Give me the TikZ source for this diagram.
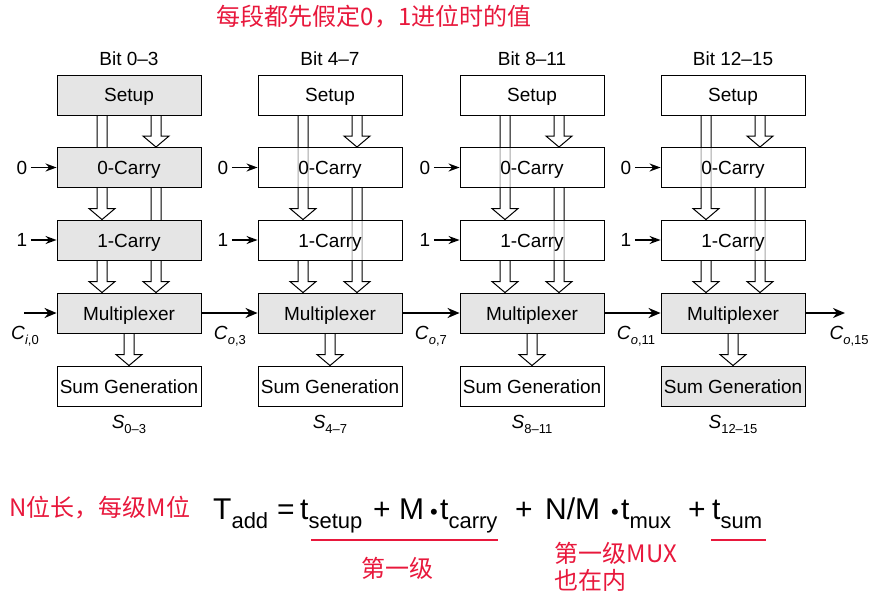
\documentclass[tikz,border=0pt]{standalone}
\usepackage{fontspec}
\setmainfont{Liberation Sans}
\newfontfamily\cjk{Noto Sans CJK SC}
\usetikzlibrary{arrows.meta,calc,backgrounds}

\definecolor{note}{RGB}{232,24,60}
\colorlet{shade}{gray!20}

% subscripts in the formula and at the labels
\newcommand{\sub}[1]{\raisebox{-9pt}{\fontsize{22}{22}\selectfont #1}}
\newcommand{\lsub}[1]{\raisebox{-5pt}{\fontsize{13}{13}\selectfont #1}}
\newcommand{\mdot}{{\fontsize{22}{22}\selectfont •}}

% hollow bus arrow pointing down from #1 to #2
\newcommand{\fatarrow}[2]{%
  \draw[fat] let \p1=(#1), \p2=(#2) in
    (\x1-5pt,\y1) -- (\x1-5pt,\y2+11pt) -- (\x1-13pt,\y2+11pt) -- (\x1,\y2)
    -- (\x1+13pt,\y2+11pt) -- (\x1+5pt,\y2+11pt) -- (\x1+5pt,\y1);}

\tikzset{
  block/.style 2 args={draw, line width=0.9pt, fill=#1, fill opacity=#2,
    text opacity=1, minimum width=144pt, minimum height=40pt, inner sep=0pt,
    text height=15pt, text depth=1pt},
  fat/.style={draw=black, line width=1pt, fill=white},
  carry/.style={line width=2.2pt, -{Stealth[length=12pt,width=10pt]}},
  feed/.style={line width=1.4pt, -{Stealth[length=11pt,width=8pt]}},
  formula/.style={anchor=base west, inner sep=0pt, font=\fontsize{30}{30}\selectfont},
  remark/.style={text=note, font=\cjk\fontsize{24}{27}\selectfont},
  underline/.style={draw=note, line width=2pt},
}

\begin{document}
\begin{tikzpicture}[x=1pt, y=-1pt, font=\fontsize{19}{21}\selectfont]
  \useasboundingbox (0,0) rectangle (874,599);

  \foreach \i/\x/\lo/\hi/\ca/\oa/\cb/\ob in
      {1/129/0/3/shade/1/white/0.65, 2/330/4/7/white/0.65/white/0.65,
       3/532/8/11/white/0.65/white/0.65, 4/733/12/15/white/0.65/shade/1} {
    \node[anchor=base] (bit\i) at (\x,66) {Bit \lo--\hi};
    \node[block={\ca}{\oa}] (setup\i) at (\x,95) {Setup};
    \node[block={\ca}{\oa}] (zero\i) at (\x,167.5) {0-Carry};
    \node[block={\ca}{\oa}] (one\i) at (\x,240) {1-Carry};
    \node[block={shade}{1}] (mux\i) at (\x,313) {Multiplexer};
    \node[block={\cb}{\ob}] (sum\i) at (\x,386) {Sum Generation};
    \node[anchor=base] (s\i) at (\x,428) {\textit{S}\lsub{\lo--\hi}};

    \node (in0\i) at (\x-107,167.5) {0};
    \node (in1\i) at (\x-107,240) {1};
    \draw[feed] (in0\i) -- (zero\i);
    \draw[feed] (in1\i) -- (one\i);

    \begin{scope}[on background layer]
      \fatarrow{[xshift=-27pt]setup\i.south}{[xshift=-27pt]one\i.north}
      \fatarrow{[xshift=27pt]setup\i.south}{[xshift=27pt]zero\i.north}
      \fatarrow{[xshift=27pt]zero\i.south}{[xshift=27pt]mux\i.north}
      \fatarrow{[xshift=-27pt]one\i.south}{[xshift=-27pt]mux\i.north}
      \fatarrow{mux\i.south}{sum\i.north}
    \end{scope}
  }

  % ripple of the carries through the multiplexers
  \coordinate (cin) at (24,313);
  \coordinate (cout) at (845,313);
  \draw[carry] (cin) -- (mux1);
  \node[anchor=base] (ci) at (25,339) {\textit{C}\lsub{\textit{i},0}};
  \foreach \i/\j/\hi in {1/2/3, 2/3/7, 3/4/11} {
    \draw[carry] (mux\i) -- (mux\j);
    \node[anchor=base west] (co\i) at ([xshift=9pt]mux\i.east |- ci.base) {\textit{C}\lsub{\textit{o},\hi}};
  }
  \draw[carry] (mux4) -- (cout);
  \node[anchor=base west] (co4) at (826,339) {\textit{C}\lsub{\textit{o},15}};

  % notes
  \node[remark] (title) at (374,17) {每段都先假定0，1进位时的值};
  \node[remark, anchor=west] (len) at (6,508) {N位长，每级M位};

  % delay of the adder
  \node[formula] (tadd) at (213,519) {T\sub{add}};
  \node[formula] (eq) at (277,519) {=};
  \node[formula] (tsetup) at (300,519) {t\sub{setup}};
  \node[formula] (plusa) at (373,519) {+};
  \node[formula] (m) at (399,519) {M};
  \node[formula] (dota) at (430,519) {\mdot};
  \node[formula] (tcarry) at (440,519) {t\sub{carry}};
  \node[formula] (plusb) at (515,519) {+};
  \node[formula] (nm) at (545,519) {N/M};
  \node[formula] (dotb) at (611,519) {\mdot};
  \node[formula] (tmux) at (621,519) {t\sub{mux}};
  \node[formula] (plusc) at (688,519) {+};
  \node[formula] (tsum) at (712,519) {t\sub{sum}};

  \draw[underline] ([xshift=11pt,yshift=-21pt]tsetup.base west) -- ([yshift=-21pt]tcarry.base east);
  \draw[underline] ([xshift=-1pt,yshift=-21pt]tsum.base west) -- ([xshift=4pt,yshift=-21pt]tsum.base east);
  \node[remark] (first) at (397,568) {第一级};
  \node[remark, anchor=north west, align=left] (muxnote) at (551,539) {第一级MUX\\也在内};
\end{tikzpicture}
\end{document}
